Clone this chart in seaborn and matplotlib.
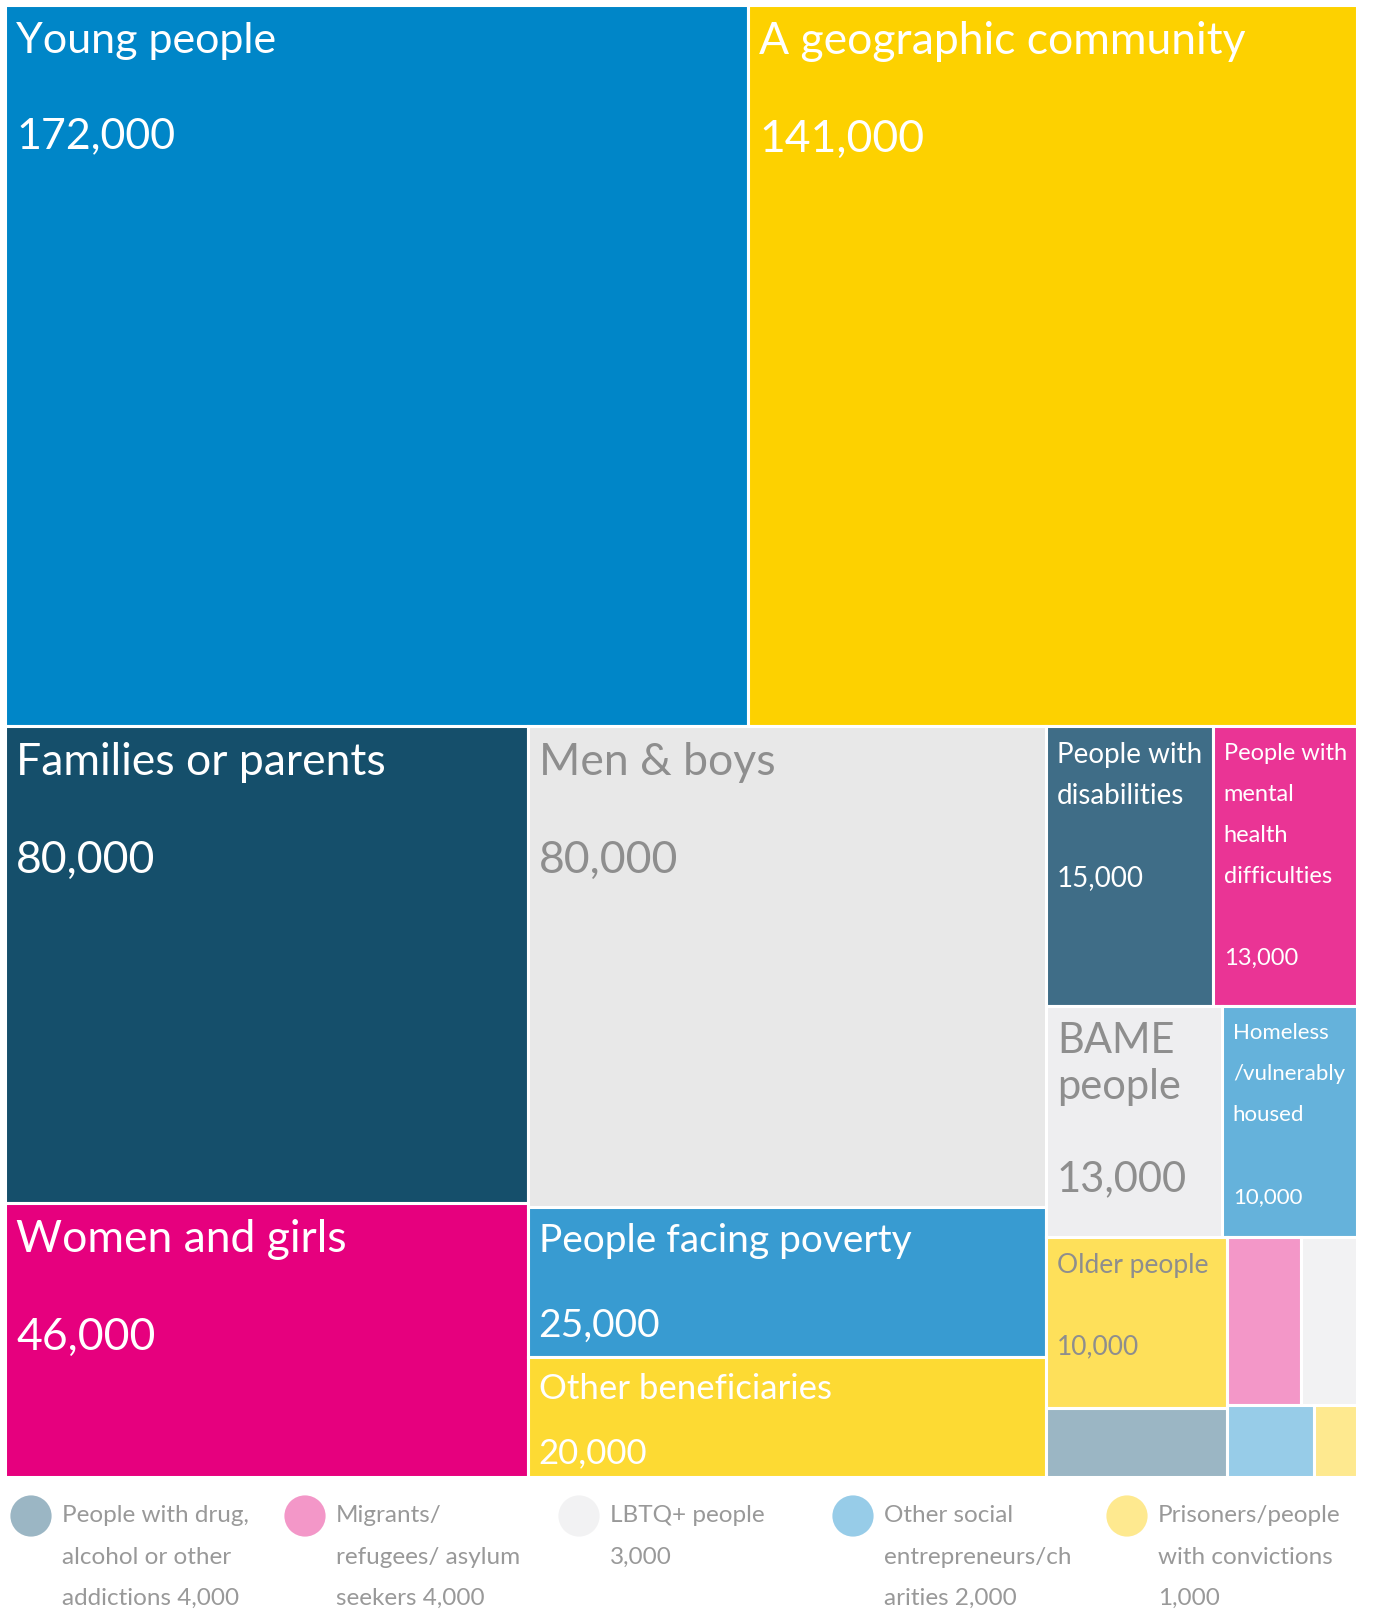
import matplotlib
matplotlib.use("Agg")
import matplotlib.pyplot as plt
import seaborn as sns
import pandas as pd

# Beneficiary groups reached, with counts
groups = [
    "Young people", "A geographic community", "Families or parents", "Women and girls",
    "Men & boys", "People facing poverty", "Other beneficiaries",
    "People with disabilities", "People with mental health difficulties",
    "BAME people", "Homeless/vulnerably housed", "Older people",
    "People with drug, alcohol or other addictions", "Migrants/refugees/asylum seekers",
    "LBTQ+ people", "Other social entrepreneurs/charities", "Prisoners/people with convictions",
]
counts = [172000, 141000, 80000, 46000, 80000, 25000, 20000, 15000, 13000,
          13000, 10000, 10000, 4000, 4000, 3000, 2000, 1000]
colors = ["#0086C8", "#FDD100", "#154F6B", "#E6007E", "#E8E8E8", "#389BD1", "#FDDA33",
          "#3F6D87", "#EA3495", "#EEEEF0", "#65B2DB", "#FEE05A",
          "#9BB6C4", "#F397C8", "#F2F2F3", "#97CCE8", "#FEE98F"]

# In-tile labels (wrapped) for the larger tiles; small tiles go to the key below
tile_labels = ["Young people", "A geographic community", "Families or parents", "Women and girls",
               "Men & boys", "People facing poverty", "Other beneficiaries",
               "People with\ndisabilities", "People with\nmental\nhealth\ndifficulties",
               "BAME\npeople", "Homeless\n/vulnerably\nhoused", "Older people",
               None, None, None, None, None]
label_sizes = [31, 32, 32, 32, 32, 28, 25, 20, 17, 30, 16, 19, 0, 0, 0, 0, 0]
label_colors = ["white", "white", "white", "white", "#8E8E8E", "white", "white",
                "white", "white", "#8E8E8E", "white", "#8E8E8E",
                None, None, None, None, None]

# Key entries for the small tiles
key_labels = ["People with drug,\nalcohol or other\naddictions {}",
              "Migrants/\nrefugees/ asylum\nseekers {}",
              "LBTQ+ people\n{}",
              "Other social\nentrepreneurs/ch\narities {}",
              "Prisoners/people\nwith convictions\n{}"]
key_index = [12, 13, 14, 15, 16]

# Slice-and-dice nesting of the tiles: "v" stacks children top to bottom, "h" left to right
tree = ("v", [("h", [0, 1]),
              ("h", [("v", [2, 3]),
                     ("v", [4, 5, 6]),
                     ("v", [("h", [7, 8]),
                            ("h", [9, 10]),
                            ("h", [("v", [11, 12]),
                                   ("v", [("h", [13, 14]), ("h", [15, 16])])])])])])


def node_total(node):
    if isinstance(node, int):
        return counts[node]
    return sum(node_total(c) for c in node[1])


def layout(node, x, y, w, h, out):
    if isinstance(node, int):
        out[node] = (x, y, w, h)
        return
    kind, children = node
    tot = node_total(node)
    pos = 0.0
    for c in children:
        frac = node_total(c) / tot
        if kind == "h":
            layout(c, x + pos * w, y, w * frac, h, out)
        else:
            layout(c, x, y + pos * h, w, h * frac, out)
        pos += frac


sns.set_theme(style="white")
plt.rcParams["font.family"] = ["Lato", "DejaVu Sans"]

FW, FH = 1375, 1611
fig = plt.figure(figsize=(FW / 100, FH / 100), dpi=100)
fig.patch.set_facecolor("white")

# Treemap area in pixel units
W, H = 1352, 1472
ax = fig.add_axes([5 / FW, 1 - (5 + H) / FH, W / FW, H / FH])
ax.set_xlim(0, W)
ax.set_ylim(H, 0)
ax.axis("off")

rects = {}
layout(tree, 0, 0, W, H, rects)
tiles = pd.DataFrame(
    [(groups[i], counts[i], *rects[i], colors[i]) for i in range(len(groups))],
    columns=["group", "count", "x", "y", "w", "h", "color"],
)
ax.bar(tiles["x"], tiles["h"], width=tiles["w"], bottom=tiles["y"], align="edge",
       color=tiles["color"], edgecolor="white", linewidth=2.2)

PX = 100 / 72
for i, row in tiles.iterrows():
    name = tile_labels[i]
    if name is None:
        continue
    fs = label_sizes[i]
    fpx = fs * PX
    line_h = max(1.1 * fpx, 41)
    x0 = row["x"] + 11
    base = row["y"] + 17 + 0.72 * fpx
    for line in name.split("\n"):
        ax.text(x0, base, line, ha="left", va="baseline", fontsize=fs,
                color=label_colors[i])
        base += line_h
    value_base = min(base + line_h, row["y"] + row["h"] - 14)
    ax.text(x0, value_base, f"{row['count']:,}", ha="left", va="baseline", fontsize=fs,
            color=label_colors[i])

# Key for the unlabelled tiles
kax = fig.add_axes([0, 0, 1, (FH - 5 - H) / FH])
kax.set_xlim(0, FW)
kax.set_ylim(FH, 5 + H)
kax.axis("off")
key_x = [31 + k * 274 for k in range(len(key_index))]
key_y = 1516
key = pd.DataFrame({"x": key_x, "y": [key_y] * len(key_x),
                    "group": [groups[i] for i in key_index]})
sns.scatterplot(data=key, x="x", y="y", hue="group",
                palette=[colors[i] for i in key_index], s=880, linewidth=0,
                legend=False, ax=kax, clip_on=False)
kax.set_xlabel("")
kax.set_ylabel("")
for k, i in enumerate(key_index):
    text = key_labels[k].format(f"{counts[i]:,}")
    for j, line in enumerate(text.split("\n")):
        kax.text(key_x[k] + 31, key_y + j * 41, line, ha="left", va="center",
                 fontsize=17.5, color="#999999", clip_on=False)

fig.savefig("out.png", dpi=100, facecolor="white")
